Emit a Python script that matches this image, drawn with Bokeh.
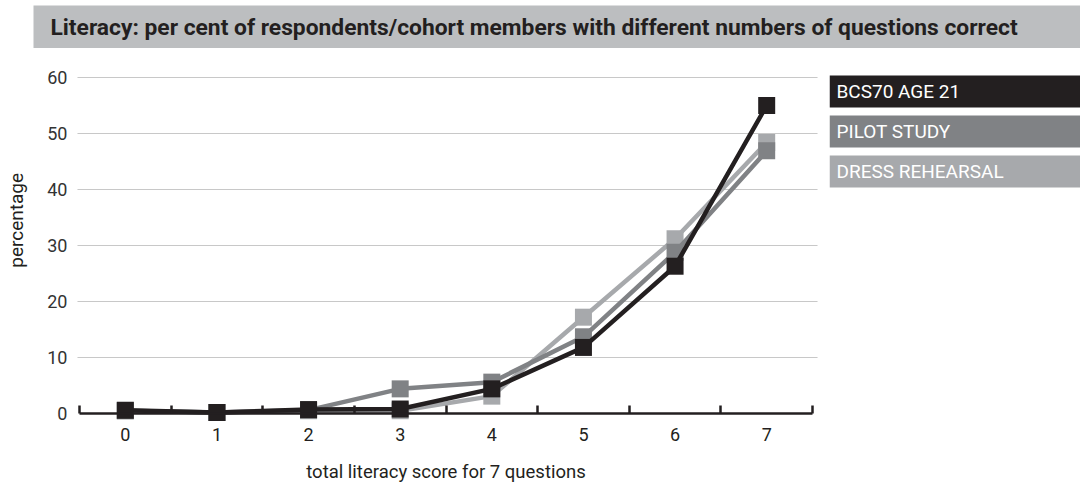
import math
from bokeh.plotting import figure
from bokeh.models import Range1d, FixedTicker, Label, LinearAxis
from bokeh.layouts import column, row
from bokeh.core.properties import value
from bokeh.embed import file_html
from bokeh.resources import INLINE

FONT = "Roboto"
TEXT_COLOR = "#231f20"

# ---- data -------------------------------------------------------------
scores = [0, 1, 2, 3, 4, 5, 6, 7]
tick_labels = ["0", "1", "2", "3", "4", "5", "6", "7"]
y_ticks = [0, 10, 20, 30, 40, 50, 60]

bcs70 = [0.6, 0.2, 0.7, 0.8, 4.4, 11.8, 26.3, 55.0]
pilot = [0.5, 0.2, 0.6, 4.4, 5.6, 13.7, 28.8, 46.9]
dress = [0.5, 0.2, 0.5, 0.5, 3.1, 17.2, 31.2, 48.4]

series_names = ["BCS70 AGE 21", "PILOT STUDY", "DRESS REHEARSAL"]
series_colors = ["#231f20", "#808285", "#a7a9ac"]
series_values = [bcs70, pilot, dress]

title_text = "Literacy: per cent of respondents/cohort members with different numbers of questions correct"
x_title = "total literacy score for 7 questions"
y_title = "percentage"

# ---- title band -------------------------------------------------------
tfig = figure(width=1080, height=48, x_range=Range1d(0, 1047), y_range=Range1d(0, 43),
              x_axis_location=None, y_axis_location=None,
              min_border_left=33, min_border_right=0, min_border_top=5, min_border_bottom=0,
              toolbar_location=None, output_backend="svg")
tfig.grid.visible = False
tfig.outline_line_color = None
tfig.background_fill_color = "#bcbec0"
tfig.text(x=[17], y=[21], text=[title_text], text_font=value(FONT), text_font_style="bold",
          text_font_size="22.8px", text_color=TEXT_COLOR, text_baseline="middle", text_align="left")

# ---- main chart -------------------------------------------------------
X0, X1 = -0.522, 7.555          # horizontal extent of the plotting area (grid lines)
p = figure(width=829, height=439, x_range=Range1d(-1.3622, 7.6855), y_range=Range1d(-13.214, 65.18),
           x_axis_location=None, y_axis_location=None,
           min_border_left=0, min_border_right=0, min_border_top=0, min_border_bottom=0,
           toolbar_location=None, output_backend="svg")
p.outline_line_color = None
p.grid.visible = False

# horizontal grid lines (from the y tick values)
gy = y_ticks[1:]
p.segment(x0=[X0] * len(gy), y0=gy, x1=[X1] * len(gy), y1=gy, line_color="#c8c8c8", line_width=1)

# draw lightest first so darkest is on top
for name, col, vals in reversed(list(zip(series_names, series_colors, series_values))):
    p.line(scores, vals, line_width=4.5, line_color=col)
    p.scatter(scores, vals, marker="square", size=17, fill_color=col, line_color=None)

xa = LinearAxis(fixed_location=0)
xa.ticker = FixedTicker(ticks=scores, minor_ticks=[s - 0.5 for s in scores] + [scores[-1] + 0.5])
xa.bounds = (-0.5, 7.5)
xa.major_label_overrides = {s: l for s, l in zip(scores, tick_labels)}
xa.major_tick_line_color = None
xa.major_tick_in = 0
xa.major_tick_out = 0
xa.minor_tick_in = 8
xa.minor_tick_out = 0
xa.minor_tick_line_width = 2.5
xa.minor_tick_line_color = TEXT_COLOR
xa.axis_line_width = 2.5
xa.axis_line_color = TEXT_COLOR
xa.major_label_text_font = FONT
xa.major_label_text_font_size = "18px"
xa.major_label_text_color = TEXT_COLOR
xa.major_label_standoff = 14
p.add_layout(xa, "below")

ya = LinearAxis(fixed_location=X0)
ya.ticker = FixedTicker(ticks=y_ticks)
ya.axis_line_color = None
ya.major_tick_line_color = None
ya.minor_tick_line_color = None
ya.major_label_standoff = 4
ya.major_label_text_font = FONT
ya.major_label_text_font_size = "18px"
ya.major_label_text_color = "#333333"
p.add_layout(ya, "left")

p.add_layout(Label(x=3.5, y=-10.36, text=x_title, text_align="center", text_baseline="middle",
                   text_font=FONT, text_font_size="18.5px", text_color=TEXT_COLOR))
p.add_layout(Label(x=-1.19, y=34.5, text=y_title, angle=math.pi / 2, text_align="center",
                   text_baseline="middle", text_font=FONT, text_font_size="19px",
                   text_color=TEXT_COLOR))

# ---- legend panel -----------------------------------------------------
lfig = figure(width=251, height=439, x_range=Range1d(0, 251), y_range=Range1d(439, 0),
              x_axis_location=None, y_axis_location=None,
              min_border_left=0, min_border_right=0, min_border_top=0, min_border_bottom=0,
              toolbar_location=None, output_backend="svg")
lfig.grid.visible = False
lfig.outline_line_color = None
tops = [27, 67, 107]
lfig.quad(left=0, right=251, top=tops, bottom=[t + 32 for t in tops], fill_color=series_colors,
          line_color=None)
lfig.text(x=[7] * 3, y=[t + 16 for t in tops], text=series_names, text_color="white",
          text_font=value(FONT), text_font_size="19px", text_baseline="middle", text_align="left")

layout = column(tfig, row(p, lfig))
open("out.html", "w").write(file_html(layout, INLINE))
